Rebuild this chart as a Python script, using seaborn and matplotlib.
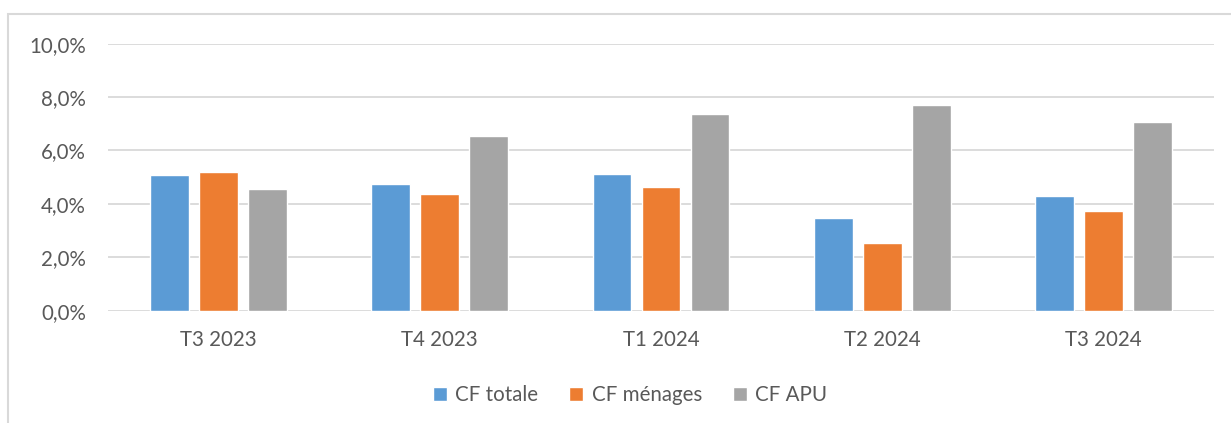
import pandas as pd
import seaborn as sns
import matplotlib.pyplot as plt
from matplotlib.patches import Rectangle
from matplotlib.ticker import FuncFormatter

# Données (en %)
trimestres = ['T3 2023', 'T4 2023', 'T1 2024', 'T2 2024', 'T3 2024']
cf_totale = [5.08, 4.75, 5.12, 3.46, 4.31]
cf_menages = [5.18, 4.37, 4.63, 2.55, 3.72]
cf_apu = [4.55, 6.53, 7.37, 7.69, 7.07]
series = ['CF totale', 'CF ménages', 'CF APU']
couleurs = ['#5B9BD5', '#ED7D31', '#A5A5A5']

data = pd.DataFrame({
    'trimestre': trimestres * 3,
    'serie': [series[0]] * 5 + [series[1]] * 5 + [series[2]] * 5,
    'valeur': cf_totale + cf_menages + cf_apu,
})

sns.set_theme(style="white")
plt.rcParams['font.family'] = ['Lato', 'DejaVu Sans']

fig = plt.figure(figsize=(12.31, 4.23), dpi=100)
ax = fig.add_axes([108 / 1231, 1 - 310.7 / 423, (1214 - 108) / 1231, (310.7 - 43.7) / 423])

sns.barplot(data=data, x='trimestre', y='valeur', hue='serie', palette=couleurs,
            width=0.665, gap=0.21, ax=ax, legend=True, saturation=1)

ax.set_ylim(0, 10)
ax.set_yticks([0, 2, 4, 6, 8, 10])
ax.yaxis.set_major_formatter(FuncFormatter(lambda v, p: f'{v:.1f}%'.replace('.', ',')))
ax.set_xlim(-0.5, 4.5)
ax.grid(axis='y', color='#D9D9D9', linewidth=1.3)
ax.set_axisbelow(True)
for s in ax.spines.values():
    s.set_visible(False)
ax.set_xlabel('')
ax.set_ylabel('')
ax.tick_params(axis='y', length=0, pad=16, labelsize=14.8, labelcolor='#595959')
ax.tick_params(axis='x', length=0, pad=14, labelsize=14.8, labelcolor='#595959')

handles, labels = ax.get_legend_handles_labels()
ax.get_legend().remove()
fig.legend(handles, labels, loc='center', bbox_to_anchor=(630 / 1231, 1 - 395 / 423),
           ncol=3, frameon=False, fontsize=14.8, labelcolor='#595959',
           handlelength=0.7, handleheight=0.7, handletextpad=0.4, columnspacing=1.5)

# Cadre de la zone de graphique
fig.patches.append(Rectangle((8 / 1231, -0.1), 1.2, 1 - 14 / 423 + 0.1, transform=fig.transFigure,
                             fill=False, edgecolor='#D9D9D9', linewidth=1.5))

fig.savefig('out.png', dpi=100)
